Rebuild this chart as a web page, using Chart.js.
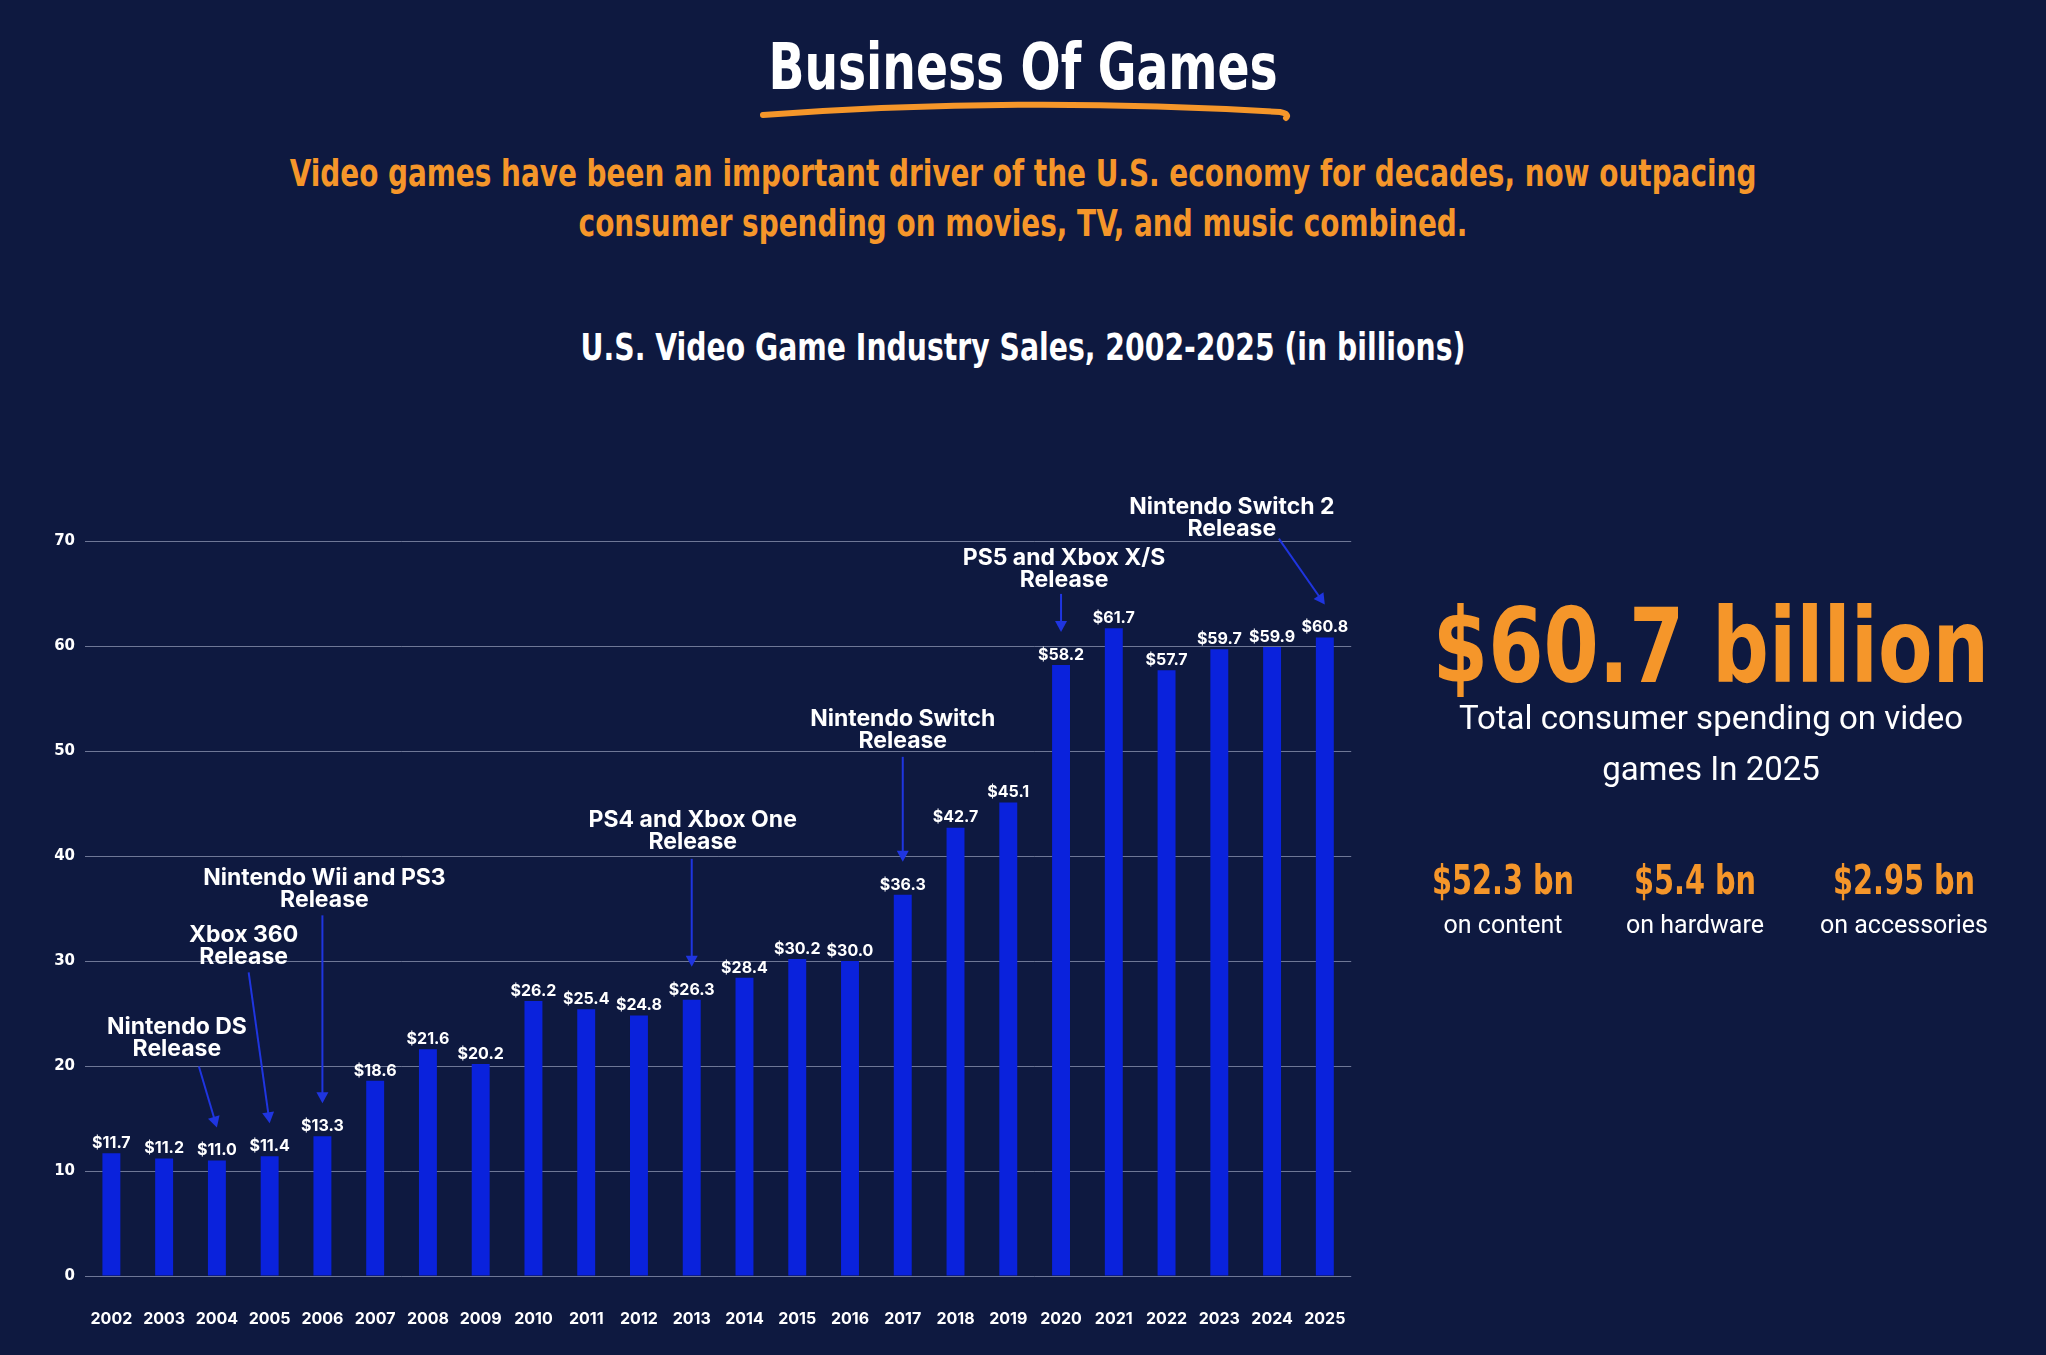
<!DOCTYPE html>
<html>
<head>
<meta charset="utf-8">
<title>Business Of Games</title>
<script src="https://cdn.jsdelivr.net/npm/chart.js@4.4.1/dist/chart.umd.min.js"></script>
<style>
  body {
    margin: 0;
    width: 2046px;
    height: 1355px;
    background: #0e1940;
    overflow: hidden;
    position: relative;
    font-family: "DejaVu Sans Condensed", sans-serif;
  }
  .abs { position: absolute; text-align: center; white-space: nowrap; }
  .narrow { font-family: "DejaVu Sans Condensed", sans-serif; font-weight: bold; transform-origin: 50% 50%; }
  #title { left: 0; width: 2046px; top: 30px; font-size: 64px; color: #fff; transform: scaleX(0.82); }
  #subtitle { left: 0; width: 2046px; top: 148px; font-size: 38px; line-height: 50px; color: #f5962a; transform: scaleX(0.816); }
  #chartTitle { left: 0; width: 2046px; top: 326px; font-size: 37px; color: #fff; transform: scaleX(0.85); }
  #swoosh { position: absolute; left: 0; top: 0; }
  #chartBox { position: absolute; left: 0; top: 0; width: 1380px; height: 1355px; }
  .right { left: 1311px; width: 800px; }
  #big { top: 591px; font-size: 104px; color: #f5962a; line-height: 110px; transform: scaleX(0.85); }
  #bigSub { top: 692px; font-family: Roboto, sans-serif; font-size: 33px; line-height: 51px; color: #fff; }
  .stat { top: 855px; width: 260px; }
  .stat .v { font-size: 40px; color: #f5962a; line-height: 50px; transform: scaleX(0.8); }
  .stat .l { font-family: Roboto, sans-serif; font-size: 25px; color: #fff; line-height: 40px; }
</style>
</head>
<body>
<div id="title" class="abs narrow">Business Of Games</div>
<svg id="swoosh" width="2046" height="200">
  <path d="M763 115 Q1020 96 1280 112 Q1290 114 1286 118" stroke="#f5962a" stroke-width="6" fill="none" stroke-linecap="round"/>
</svg>
<div id="subtitle" class="abs narrow">Video games have been an important driver of the U.S. economy for decades, now outpacing<br>consumer spending on movies, TV, and music combined.</div>
<div id="chartTitle" class="abs narrow">U.S. Video Game Industry Sales, 2002-2025 (in billions)</div>

<div id="chartBox"><canvas id="salesChart"></canvas></div>

<div id="big" class="abs narrow right">$60.7 billion</div>
<div id="bigSub" class="abs right">Total consumer spending on video<br>games In 2025</div>
<div class="abs stat" style="left:1373px"><div class="v narrow">$52.3 bn</div><div class="l">on content</div></div>
<div class="abs stat" style="left:1565px"><div class="v narrow">$5.4 bn</div><div class="l">on hardware</div></div>
<div class="abs stat" style="left:1774px"><div class="v narrow">$2.95 bn</div><div class="l">on accessories</div></div>

<script>
// Sales in billions of dollars
const years = ["2002", "2003", "2004", "2005", "2006", "2007", "2008", "2009", "2010", "2011", "2012", "2013",
  "2014", "2015", "2016", "2017", "2018", "2019", "2020", "2021", "2022", "2023", "2024", "2025"];
const sales = [11.7, 11.2, 11.0, 11.4, 13.3, 18.6, 21.6, 20.2, 26.2, 25.4, 24.8, 26.3,
  28.4, 30.2, 30.0, 36.3, 42.7, 45.1, 58.2, 61.7, 57.7, 59.7, 59.9, 60.8];
const yTicks = [0, 10, 20, 30, 40, 50, 60, 70];

// Console releases
const releaseYears = ["2004", "2005", "2006", "2013", "2017", "2020", "2025"];
const releaseNames = [
  ["Nintendo DS", "Release"],
  ["Xbox 360", "Release"],
  ["Nintendo Wii and PS3", "Release"],
  ["PS4 and Xbox One", "Release"],
  ["Nintendo Switch", "Release"],
  ["PS5 and Xbox X/S", "Release"],
  ["Nintendo Switch 2", "Release"],
];

// where each note sits relative to its arrow tip (pixels)
const noteLayout = [
  { tx: -40, ty: -78, ax: -18, ay: -61 },
  { tx: -26, ty: -166, ax: -21, ay: -151 },
  { tx: 2, ty: -203, ax: 0, ay: -188 },
  { tx: 1, ty: -125, ax: 0, ay: -108 },
  { tx: 0, ty: -121, ax: 0, ay: -105 },
  { tx: 3, ty: -52, ax: 0, ay: -38 },
  { tx: -93, ty: -76, ax: -46, ay: -66 },
];

const valueLabels = {
  id: "valueLabels",
  afterDatasetsDraw(chart) {
    const ctx = chart.ctx;
    const meta = chart.getDatasetMeta(0);
    ctx.save();
    ctx.fillStyle = "#ffffff";
    ctx.font = "bold 16px Inter, 'Liberation Sans', sans-serif";
    ctx.textAlign = "center";
    ctx.textBaseline = "bottom";
    meta.data.forEach(function (bar, i) {
      ctx.fillText("$" + sales[i].toFixed(1), bar.x, bar.y - 2);
    });
    ctx.restore();
  },
};

const releaseNotes = {
  id: "releaseNotes",
  afterDatasetsDraw(chart) {
    const ctx = chart.ctx;
    const x = chart.scales.x;
    const y = chart.scales.y;
    ctx.save();
    releaseYears.forEach(function (yr, i) {
      const idx = years.indexOf(yr);
      const tipX = x.getPixelForValue(idx);
      const tipY = y.getPixelForValue(sales[idx]) - 33;
      const l = noteLayout[i];

      // arrow
      const sx = tipX + l.ax, sy = tipY + l.ay;
      const ang = Math.atan2(tipY - sy, tipX - sx);
      ctx.strokeStyle = "#1f35e0";
      ctx.fillStyle = "#1f35e0";
      ctx.lineWidth = 2;
      ctx.beginPath();
      ctx.moveTo(sx, sy);
      ctx.lineTo(tipX - Math.cos(ang) * 8, tipY - Math.sin(ang) * 8);
      ctx.stroke();
      ctx.beginPath();
      ctx.moveTo(tipX, tipY);
      ctx.lineTo(tipX - Math.cos(ang) * 11 + Math.sin(ang) * 6, tipY - Math.sin(ang) * 11 - Math.cos(ang) * 6);
      ctx.lineTo(tipX - Math.cos(ang) * 11 - Math.sin(ang) * 6, tipY - Math.sin(ang) * 11 + Math.cos(ang) * 6);
      ctx.closePath();
      ctx.fill();

      // text
      ctx.fillStyle = "#ffffff";
      ctx.font = "bold 23px Inter, 'Liberation Sans', sans-serif";
      ctx.textAlign = "center";
      ctx.textBaseline = "middle";
      const lines = releaseNames[i];
      ctx.fillText(lines[0], tipX + l.tx, tipY + l.ty - 22);
      ctx.fillText(lines[1], tipX + l.tx, tipY + l.ty);
    });
    ctx.restore();
  },
};

const salesChart = new Chart(document.getElementById("salesChart"), {
  type: "bar",
  data: {
    labels: years,
    datasets: [
      {
        label: "Sales",
        data: sales,
        backgroundColor: "#0a22dc",
        barPercentage: 0.34,
        categoryPercentage: 1,
      },
    ],
  },
  options: {
    responsive: true,
    maintainAspectRatio: false,
    animation: false,
    layout: { padding: { top: 541, bottom: 15, left: 35, right: 28 } },
    scales: {
      x: {
        afterFit: function (axis) { axis.height = 64; },
        grid: { display: false, drawTicks: false },
        border: { display: false },
        ticks: {
          color: "#ffffff",
          padding: 34,
          maxRotation: 0,
          font: { family: "Inter, 'Liberation Sans', sans-serif", weight: "bold", size: 16 },
        },
      },
      y: {
        min: 0,
        max: 70,
        afterBuildTicks: function (axis) {
          axis.ticks = yTicks.map(function (v) { return { value: v }; });
        },
        afterFit: function (axis) { axis.width = 50; },
        grid: { color: "rgba(190, 196, 220, 0.55)", lineWidth: 1, drawTicks: false },
        border: { display: false },
        ticks: {
          color: "#ffffff",
          padding: 10,
          font: { family: "'DejaVu Sans', sans-serif", weight: "bold", size: 15 },
        },
      },
    },
    plugins: {
      legend: { display: false },
      tooltip: { enabled: false },
    },
  },
  plugins: [valueLabels, releaseNotes],
});
</script>
</body>
</html>
